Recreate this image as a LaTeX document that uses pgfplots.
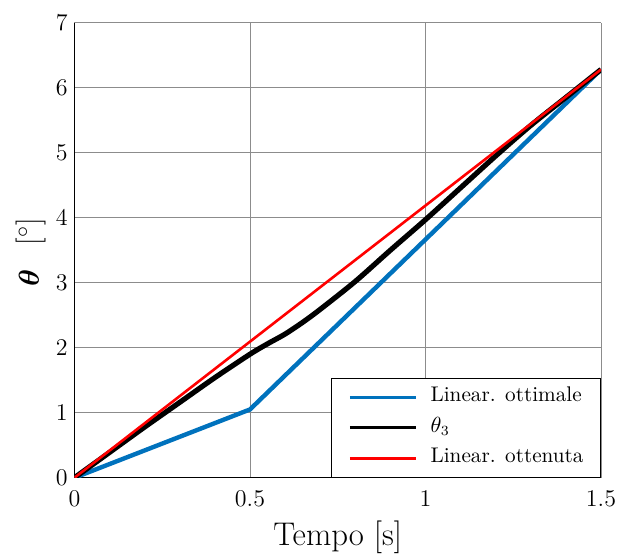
\documentclass[border=0pt]{standalone}
\usepackage{pgfplots}
\pgfplotsset{compat=1.18}
\usepackage{bm}
\definecolor{mblue}{rgb}{0,0.447,0.741}

\begin{document}
\begin{tikzpicture}
\begin{axis}[
  scale only axis,
  width=263.25pt, height=227.5pt,
  xmin=0, xmax=1.5, ymin=0, ymax=7,
  xtick={0,0.5,1,1.5}, ytick={0,1,2,3,4,5,6,7},
  axis x line*=bottom, axis y line*=left,
  axis line style={black, line width=0.5pt},
  grid=major,
  grid style={black!45, line width=0.5pt},
  major tick length=0pt,
  tick label style={font=\fontsize{13}{13}\selectfont},
  xticklabel style={anchor=base, inner sep=0pt, yshift=-14.6pt},
  yticklabel style={anchor=east, inner sep=0pt, xshift=-3.25pt},
  xlabel={Tempo [s]},
  ylabel={{\fontsize{14}{14}\selectfont$\bm{\theta}$}\hspace{12pt}[$^\circ$]},
  xlabel style={font=\fontsize{16.4}{16.4}\selectfont,
    at={([yshift=-33.7pt]axis description cs:0.5,0)}, anchor=base},
  ylabel style={font=\fontsize{15}{15}\selectfont,
    at={([xshift=-17.8pt, yshift=-1pt]axis description cs:0,0.5)}, anchor=base},
  legend style={at={(1,0)}, anchor=south east,
    font=\fontsize{10.6}{12}\selectfont,
    draw=black, line width=0.5pt,
    inner xsep=8.5pt, inner ysep=4.25pt,
    row sep=5pt,
    nodes={inner sep=0pt, text height=7.3pt, text depth=3pt}},
  legend cell align=left,
  legend image code/.code={\draw[#1] (0pt,0pt) -- (33pt,0pt); \path (39.5pt,0pt);},
]
% legend entries (thinner strokes than the curves)
\addlegendimage{mblue, line width=1.5pt}
\addlegendentry{Linear. ottimale}
\addlegendimage{black, line width=1.65pt}
\addlegendentry{$\theta_3$}
\addlegendimage{red, line width=1.15pt}
\addlegendentry{Linear. ottenuta}
% linearizzazione ottimale
\addplot[mblue, line width=2.2pt, forget plot] coordinates {(0,0) (0.5,1.05) (1.5,6.28)};
% traiettoria del giunto 3
\addplot[black, line width=2.6pt, smooth, forget plot] coordinates {
  (0,0) (0.1,0.39) (0.2,0.78) (0.3,1.16) (0.4,1.54) (0.5,1.90)
  (0.55,2.06) (0.6,2.21) (0.65,2.39) (0.7,2.59) (0.8,3.02) (0.9,3.50) (1.0,3.97)
  (1.1,4.46) (1.2,4.95) (1.3,5.42) (1.4,5.85) (1.5,6.28)};
% linearizzazione ottenuta
\addplot[red, line width=1.3pt, forget plot] coordinates {(0,0) (1.5,6.28)};
\end{axis}
% fixed margins around the axis box
\pgfresetboundingbox
\path[use as bounding box]
  ([shift={(-37.25pt,-39.7pt)}]current axis.south west) rectangle
  ([shift={(10.5pt,11.35pt)}]current axis.north east);
\end{tikzpicture}
\end{document}
